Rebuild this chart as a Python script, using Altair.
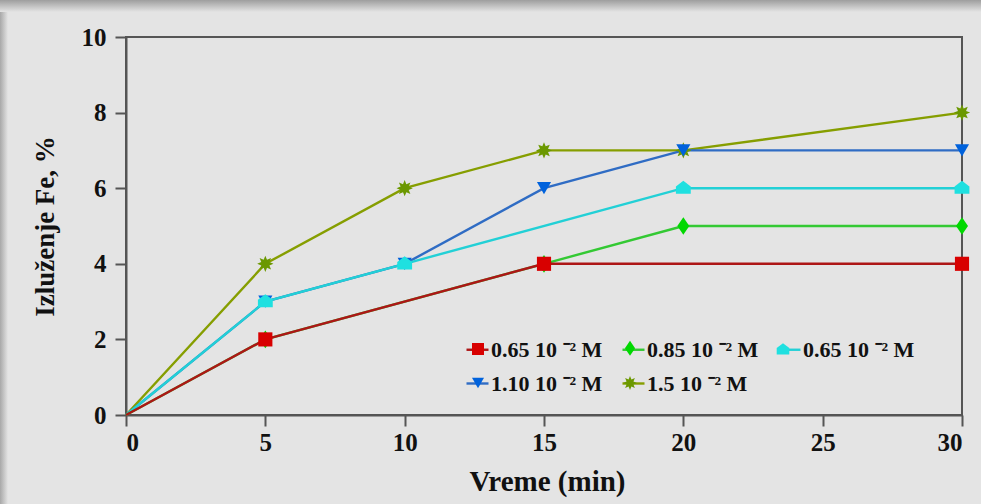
import altair as alt
import pandas as pd
import numpy as np

# ---- data ----
series_labels = ["0.65 10 \u207b\u00b2 M", "0.85 10 \u207b\u00b2 M", "0.65 10 \u207b\u00b2 M\u200b",
                 "1.10 10 \u207b\u00b2 M", "1.5 10 \u207b\u00b2 M"]
red_t = [0, 5, 15, 30]
red_y = [0, 2, 4, 4]
green_t = [0, 5, 15, 20, 30]
green_y = [0, 2, 4, 5, 5]
cyan_t = [0, 5, 10, 20, 30]
cyan_y = [0, 3, 4, 6, 6]
blue_t = [0, 5, 10, 15, 20, 30]
blue_y = [0, 3, 4, 6, 7, 7]
olive_t = [0, 5, 10, 15, 20, 30]
olive_y = [0, 4, 6, 7, 7, 8]
x_ticks = [0, 5, 10, 15, 20, 25, 30]
y_ticks = [0, 2, 4, 6, 8, 10]

line_colors = ["#ad1616", "#33c933", "#22d0d6", "#2f6cc4", "#869e00"]
marker_colors = ["#d80000", "#00d800", "#1fe0e0", "#0062dc", "#6b9800"]

# star shape for the last series
ang = np.arange(16) * np.pi / 8 - np.pi / 2
rad = np.where(np.arange(16) % 2 == 0, 1.15, 0.62)
star = "M" + "L".join(f"{r*np.cos(a):.3f},{r*np.sin(a):.3f}" for r, a in zip(rad, ang)) + "Z"
shapes = ["square", "M0,-1.25L0.85,0L0,1.25L-0.85,0Z", "M0,-1.05L1.05,-0.25L1.05,0.8L-1.05,0.8L-1.05,-0.25Z",
          "triangle-down", star]

sets = [(red_t, red_y), (green_t, green_y), (cyan_t, cyan_y), (blue_t, blue_y), (olive_t, olive_y)]
rows = []
for i, (lab, (ts, ys)) in enumerate(zip(series_labels, sets)):
    for t, y in zip(ts, ys):
        rows.append({"t": t, "y": y, "series": lab, "sb": lab + "\u200c", "k": i})
df = pd.DataFrame(rows).sort_values(["k", "t"], ascending=[False, True])
pts = df[df["t"] > 0]

b_domain = [s + "\u200c" for s in series_labels]

FONT = "Liberation Serif"
xs = alt.Scale(domain=[0, 30], nice=False)
ys = alt.Scale(domain=[0, 10], nice=False)

x_enc = alt.X("t:Q", scale=xs, axis=alt.Axis(values=x_ticks, title="Vreme (min)", grid=False,
              titleX=421, titleY=66, titleBaseline="middle", labelPadding=4, format="d"))
y_enc = alt.Y("y:Q", scale=ys, axis=alt.Axis(values=y_ticks, title="Izluženje  Fe, %", grid=False,
              titleX=-81, titleY=189, titleBaseline="middle", titleAlign="center", labelPadding=9,
              format="d", titleFontSize=27))

legA = alt.Legend(orient="none", legendX=339, legendY=300, columns=3, direction="horizontal",
                  symbolType="stroke", symbolSize=484, symbolStrokeWidth=2.4, labelFont=FONT,
                  labelFontSize=22, labelFontWeight="bold", labelColor="#111", labelOffset=1,
                  columnPadding=14, rowPadding=10, title=None)
legB = alt.Legend(orient="none", legendX=346, legendY=305, columns=3, direction="horizontal",
                  symbolSize=144, symbolStrokeWidth=0, labelExpr="''", labelFontSize=1,
                  labelOffset=0, columnPadding=139, rowPadding=20, title=None, symbolOpacity=1)

lines = alt.Chart(df).mark_line(strokeWidth=2.4).encode(
    x=x_enc, y=y_enc,
    color=alt.Color("series:N", scale=alt.Scale(domain=series_labels, range=line_colors), legend=legA),
    order=alt.Order("t:Q"),
)

points = alt.Chart(pts).mark_point(filled=True, size=200, opacity=1).encode(
    x=alt.X("t:Q", scale=xs), y=alt.Y("y:Q", scale=ys),
    fill=alt.Fill("sb:N", scale=alt.Scale(domain=b_domain, range=marker_colors), legend=legB),
    shape=alt.Shape("sb:N", scale=alt.Scale(domain=b_domain, range=shapes), legend=legB),
    order=alt.Order("k:Q", sort="descending"),
)

grad_top = {"gradient": "linear", "x1": 0, "y1": 0, "x2": 0, "y2": 1,
            "stops": [{"offset": 0, "color": "#9e9e9e"}, {"offset": 1, "color": "#e4e4e4"}]}
grad_left = {"gradient": "linear", "x1": 0, "y1": 0, "x2": 1, "y2": 0,
             "stops": [{"offset": 0, "color": "#a8a8a8"}, {"offset": 1, "color": "#e4e4e4"}]}
shadow_top = alt.Chart(pd.DataFrame({"a": [0]})).mark_rect(color=grad_top).encode(
    x=alt.value(-126), x2=alt.value(855), y=alt.value(-37), y2=alt.value(-25))
shadow_left = alt.Chart(pd.DataFrame({"a": [0]})).mark_rect(color=grad_left).encode(
    x=alt.value(-126), x2=alt.value(-118), y=alt.value(-25), y2=alt.value(467))

chart = alt.layer(shadow_top, shadow_left, lines, points).resolve_scale(
    color="independent", fill="independent", shape="independent"
).properties(
    width=836, height=378, autosize=alt.AutoSizeParams(type="none"),
    padding={"left": 126, "top": 37, "right": 19, "bottom": 89},
    background="#e4e4e4",
).configure_view(stroke="#555555", strokeWidth=2).configure_axis(
    domainColor="#555555", domainWidth=2, tickColor="#555555", tickWidth=2, tickSize=11,
    labelFont=FONT, labelFontSize=25, labelFontWeight="bold", labelColor="#111",
    titleFont=FONT, titleFontSize=29, titleFontWeight="bold", titleColor="#111",
)

chart.save("out.html", embed_options={"renderer": "svg", "actions": False})
